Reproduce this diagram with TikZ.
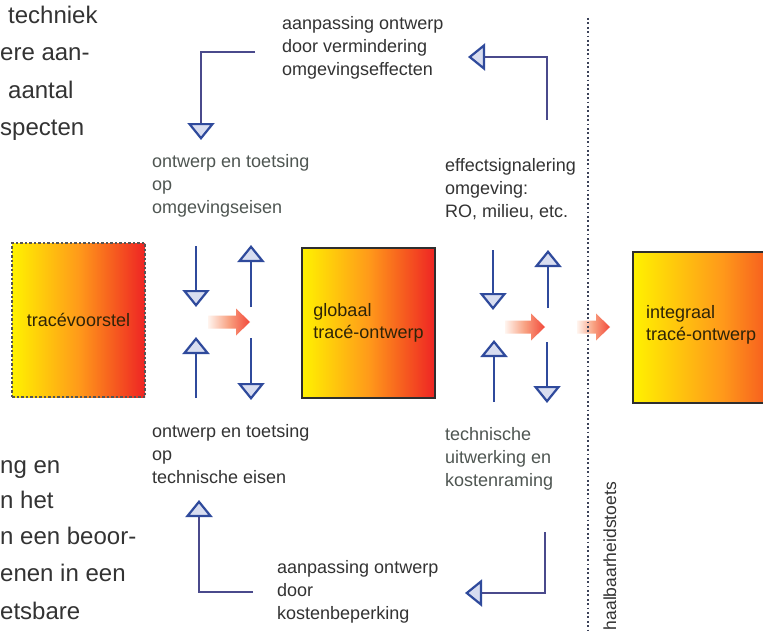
\documentclass[tikz,border=0pt]{standalone}
\usepackage{fontspec}
\setmainfont{Liberation Sans}
\usetikzlibrary{arrows.meta}
\definecolor{tipblue}{HTML}{2F4A9C}
\definecolor{tipfill}{HTML}{D8DDF0}
\definecolor{fbline}{HTML}{4A4A8C}
\definecolor{txtdark}{HTML}{333333}
\definecolor{txtgray}{HTML}{4F5652}
\definecolor{boxyellow}{HTML}{FFF200}
\definecolor{boxorange}{HTML}{FF9A1A}
\definecolor{boxred}{HTML}{EE2424}
\definecolor{boxtext}{HTML}{2E2408}
\definecolor{boxborder}{HTML}{2E2E2E}
\definecolor{boxdash}{HTML}{555555}
\definecolor{arrred}{HTML}{F2483A}
\definecolor{arrmid}{HTML}{F8A080}
\definecolor{arrlight}{HTML}{FFF4EE}
\definecolor{dotcol}{HTML}{3C4258}
\newcommand\mkredarrow[4]{%
  \shade[left color=arrlight, right color=arrred, middle color=arrmid]
    (#1,#4-6.5) -- (#2,#4-6.5) -- (#2,#4-13.5) -- (#3,#4) -- (#2,#4+13.5)
    -- (#2,#4+6.5) -- (#1,#4+6.5) -- cycle;}
\tikzset{
  blueTri/.tip={Triangle[width=27pt,length=17pt,fill=tipfill,color=tipblue,line width=2.2pt]},
  shaft/.style={draw=tipblue, line width=1.6pt, -{blueTri}},
  fb/.style={draw=fbline, line width=2pt, -{blueTri}},
  bodytext/.style={font=\fontsize{24}{30}\selectfont, text=txtdark, inner sep=0, anchor=base west},
  lbl/.style={font=\fontsize{18}{23}\selectfont, align=left, inner sep=0, anchor=north west, text=txtdark},
  lblgray/.style={lbl, text=txtgray},
  boxfont/.style={inner sep=0, font=\fontsize{18}{22}\selectfont, text=boxtext},
  gradbox/.style={boxfont, left color=boxyellow, right color=boxred, middle color=boxorange},
}
\begin{document}
\begin{tikzpicture}[x=1pt,y=-1pt]
\useasboundingbox (0,0) rectangle (763,634);
\clip (0,0) rectangle (763,634);
\fill[white] (0,0) rectangle (763,634);

% cut-off body text
\node[bodytext] (p1) at (8,24) {techniek};
\node[bodytext] (p2) at (0,61) {ere aan-};
\node[bodytext] (p3) at (8,98) {aantal};
\node[bodytext] (p4) at (0,135) {specten};
\node[bodytext] (p5) at (0,473) {ng en};
\node[bodytext] (p6) at (0,508) {n het};
\node[bodytext] (p7) at (0,544) {n een beoor-};
\node[bodytext] (p8) at (0,581) {enen in een};
\node[bodytext] (p9) at (0,619) {etsbare};

% boxes
\node[gradbox, draw=boxdash, dash pattern=on 2.5pt off 2pt, line width=1.5pt,
  minimum width=133pt, minimum height=154pt] (b1) at (78.5,320) {tracévoorstel};
\node[gradbox, draw=boxborder, line width=2pt, align=left,
  minimum width=133pt, minimum height=150pt] (b2) at (368.5,323) {globaal\\tracé-ontwerp};
\node[gradbox, draw=boxborder, line width=2pt,
  minimum width=177pt, minimum height=151pt] (b3) at (721.5,327.5) {};
\node[boxfont, align=left, anchor=north west] (b3t) at (646,305) {integraal\\tracé-ontwerp};

% labels
\node[lblgray] (lblomg) at (152,154) {ontwerp en toetsing\\op\\omgevingseisen};
\node[lbl] (lbleff) at (445,158) {effectsignalering\\omgeving:\\RO, milieu, etc.};
\node[lbl] (lbltech) at (152,424.5) {ontwerp en toetsing\\op\\technische eisen};
\node[lblgray] (lblkost) at (445,427.5) {technische\\uitwerking en\\kostenraming};
\node[lbl] (lbltop) at (282,16) {aanpassing ontwerp\\door vermindering\\omgevingseffecten};
\node[lbl] (lblbot) at (277,560) {aanpassing ontwerp\\door\\kostenbeperking};

% short arrows, set A
\coordinate (a1s) at (196,246); \coordinate (a1e) at (196,307);
\coordinate (a2s) at (251,307); \coordinate (a2e) at (251,245);
\coordinate (a3s) at (196,398); \coordinate (a3e) at (196,337);
\coordinate (a4s) at (251,338); \coordinate (a4e) at (251,400);
\draw[shaft] (a1s) -- (a1e);
\draw[shaft] (a2s) -- (a2e);
\draw[shaft] (a3s) -- (a3e);
\draw[shaft] (a4s) -- (a4e);
% set B
\coordinate (b1s) at (493,250); \coordinate (b1e) at (493,310);
\coordinate (b2s) at (548,308); \coordinate (b2e) at (548,250);
\coordinate (b3s) at (494,402); \coordinate (b3e) at (494,340);
\coordinate (b4s) at (547,342); \coordinate (b4e) at (547,403);
\draw[shaft] (b1s) -- (b1e);
\draw[shaft] (b2s) -- (b2e);
\draw[shaft] (b3s) -- (b3e);
\draw[shaft] (b4s) -- (b4e);

% feedback arrows
\coordinate (f1s) at (255,52); \coordinate (f1c) at (201,52); \coordinate (f1e) at (201,140);
\coordinate (f2s) at (547,120); \coordinate (f2c) at (547,57); \coordinate (f2e) at (468,57);
\coordinate (f3s) at (253,592); \coordinate (f3c) at (199,592); \coordinate (f3e) at (199,500);
\coordinate (f4s) at (545,532); \coordinate (f4c) at (545,593); \coordinate (f4e) at (465,593);
\draw[fb] (f1s) -- (f1c) -- (f1e);
\draw[fb] (f2s) -- (f2c) -- (f2e);
\draw[fb] (f3s) -- (f3c) -- (f3e);
\draw[fb] (f4s) -- (f4c) -- (f4e);

% red arrows
\mkredarrow{208}{236}{250}{322}
\mkredarrow{505}{531}{545}{327}
\mkredarrow{577}{596}{610}{327}

% dotted divider and its label
\coordinate (dtop) at (588,18); \coordinate (dbot) at (588,640);
\draw[dotcol, line width=2.2pt, dash pattern=on 1.8pt off 2.6pt] (dtop) -- (dbot);
\node[rotate=90, anchor=base east, font=\fontsize{17.5}{20}\selectfont, text=txtdark, inner sep=0] (toets) at (616,482) {haalbaarheidstoets};
\end{tikzpicture}
\end{document}
